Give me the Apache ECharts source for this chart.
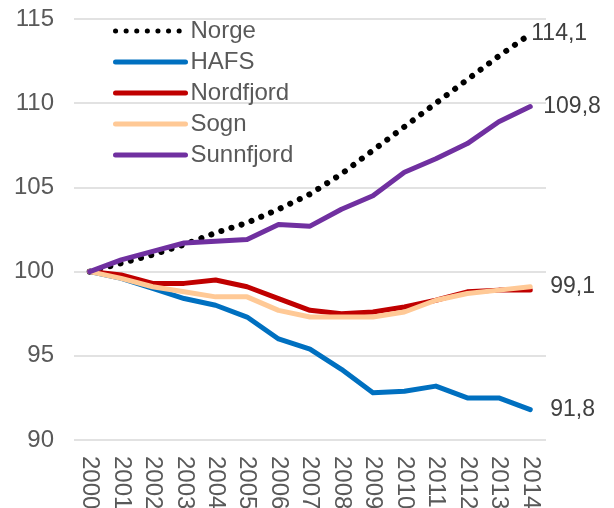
<!DOCTYPE html>
<html lang="no">
<head>
<meta charset="UTF-8">
<title>Befolkningsutvikling 2000-2014</title>
<script src="https://cdn.jsdelivr.net/npm/echarts@6/dist/echarts.min.js"></script>
<style>
    html, body { margin: 0; padding: 0; background: #fff; }
    #chart { width: 614px; height: 508px; }
</style>
</head>
<body>
<div id="chart"></div>
<script>
    // indeks, 2000 = 100
    var years = ['2000','2001','2002','2003','2004','2005','2006','2007','2008','2009','2010','2011','2012','2013','2014'];
    var norge     = [100, 100.5, 101.0, 101.6, 102.3, 102.9, 103.7, 104.6, 105.8, 107.2, 108.6, 110.0, 111.4, 112.8, 114.1];
    var hafs      = [100, 99.6, 99.0, 98.4, 98.0, 97.3, 96.0, 95.4, 94.2, 92.8, 92.9, 93.2, 92.5, 92.5, 91.8];
    var nordfjord = [100, 99.8, 99.3, 99.3, 99.5, 99.1, 98.4, 97.7, 97.5, 97.6, 97.9, 98.3, 98.8, 98.9, 98.9];
    var sogn      = [100, 99.6, 99.1, 98.8, 98.5, 98.5, 97.7, 97.3, 97.3, 97.3, 97.6, 98.3, 98.7, 98.9, 99.1];
    var sunnfjord = [100, 100.7, 101.2, 101.7, 101.8, 101.9, 102.8, 102.7, 103.7, 104.5, 105.9, 106.7, 107.6, 108.9, 109.8];

    var font = 'Liberation Sans, Arial, sans-serif';
    var grey = '#595959';

    function komma(p) {
        return String(p.value).replace('.', ',');
    }

    function linje(name, data, color, extra) {
        var s = {
            name: name,
            type: 'line',
            data: data,
            symbol: 'none',
            smooth: false,
            lineStyle: { color: color, width: 5, cap: 'round', join: 'round' },
            itemStyle: { color: color },
            emphasis: { disabled: true }
        };
        return Object.assign(s, extra || {});
    }

    function sluttEtikett(dist) {
        return {
            show: true,
            formatter: komma,
            distance: dist,
            color: '#404040',
            fontSize: 23,
            fontFamily: font
        };
    }

    var myChart = echarts.init(document.getElementById('chart'));
    var option = {
        animation: false,
        grid: { left: 74, right: 68, top: 19, bottom: 68, outerBoundsMode: 'none' },
        legend: {
            orient: 'vertical',
            left: 108,
            top: 14,
            itemWidth: 70,
            itemHeight: 24,
            itemGap: 7,
            selectedMode: false,
            itemStyle: { opacity: 0 },
            lineStyle: { width: 5, cap: 'round' },
            textStyle: { color: grey, fontSize: 24, fontFamily: font },
            data: ['Norge', 'HAFS', 'Nordfjord', 'Sogn', 'Sunnfjord']
        },
        xAxis: {
            type: 'category',
            data: years,
            boundaryGap: true,
            axisLine: { show: false },
            axisTick: { show: false },
            axisLabel: {
                rotate: -90,
                margin: 16,
                color: grey,
                fontSize: 24,
                fontFamily: font,
                interval: 0
            }
        },
        yAxis: {
            type: 'value',
            min: 90,
            max: 115,
            interval: 5,
            axisLine: { show: false },
            axisTick: { show: false },
            axisLabel: { color: grey, fontSize: 24, fontFamily: font, margin: 20 },
            splitLine: { lineStyle: { color: '#d9d9d9', width: 1.5 } }
        },
        series: [
            linje('Norge', norge, '#000000', {
                lineStyle: { color: '#000000', width: 6, type: [0.1, 10.5], cap: 'round' },
                endLabel: sluttEtikett(1)
            }),
            linje('HAFS', hafs, '#0070C0', { endLabel: sluttEtikett(20) }),
            linje('Nordfjord', nordfjord, '#C00000'),
            linje('Sogn', sogn, '#FFC996', { endLabel: sluttEtikett(20) }),
            linje('Sunnfjord', sunnfjord, '#7030A0', { endLabel: sluttEtikett(13) })
        ]
    };
    myChart.setOption(option);
</script>
</body>
</html>
